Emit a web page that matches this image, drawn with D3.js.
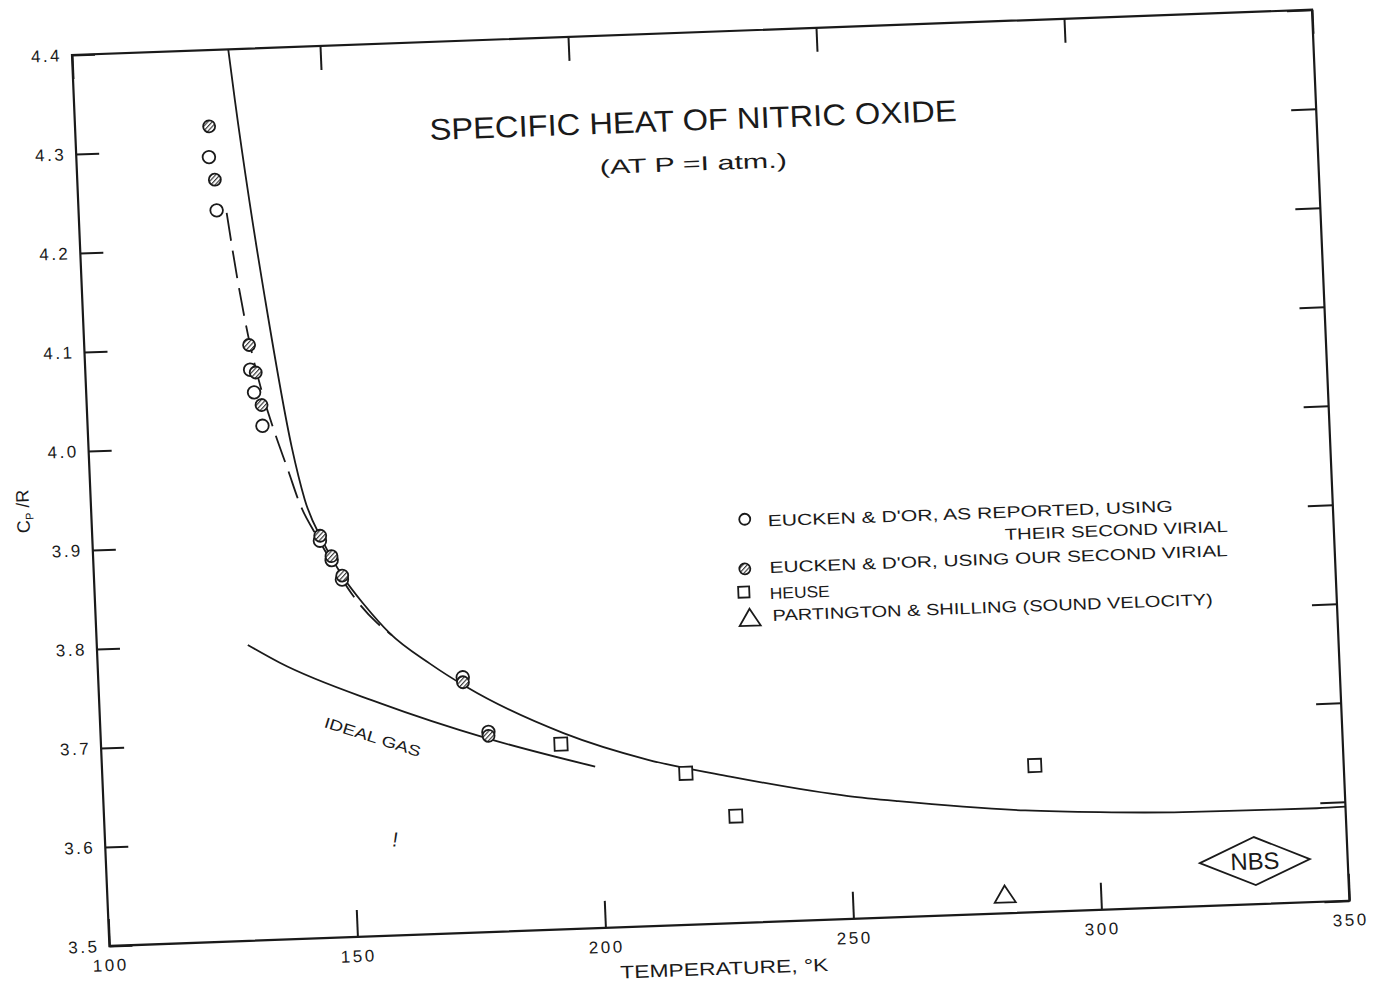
<!DOCTYPE html>
<html>
<head>
<meta charset="utf-8">
<title>specific heat of nitric oxide</title>
<script src="https://cdn.jsdelivr.net/npm/d3@7"></script>
<style>
    body { margin: 0; background-color: #fff; }
    svg { display: block; }
    .frame { fill: none; stroke: #1a1a1a; stroke-width: 2.2px; }
    .axis path { display: none; }
    .axis line { stroke: #1a1a1a; stroke-width: 2px; }
    .curve { fill: none; stroke: #1a1a1a; stroke-width: 1.8px; }
    .mark { stroke: #1a1a1a; stroke-width: 1.8px; fill: #fff; }
    .mark.hatched { fill: url(#hatch); }
    text { font-family: "Liberation Sans", Arial, sans-serif; fill: #1a1a1a; }
</style>
</head>
<body>
<svg id="chart" width="1373" height="984"></svg>
<script>
// ticks
const xTicks = [100, 150, 200, 250, 300, 350];
const yTicks = [3.5, 3.6, 3.7, 3.8, 3.9, 4.0, 4.1, 4.2, 4.3, 4.4];

// Eucken & D'Or, as reported (open circles)
const openT  = [126.7, 127.8, 133.2, 133.8, 135.2, 145.8, 148.0, 149.9, 173.4, 178.1];
const openCp = [4.292, 4.238, 4.076, 4.053, 4.019, 3.901, 3.881, 3.861, 3.758, 3.702];
// Eucken & D'Or, our second virial (hatched circles)
const hatchT  = [127.0, 127.7, 133.2, 134.3, 135.2, 145.9, 148.0, 150.0, 173.4, 178.1];
const hatchCp = [4.323, 4.269, 4.101, 4.073, 4.040, 3.906, 3.885, 3.865, 3.753, 3.698];
// Heuse (squares)
const heuseT  = [192.6, 217.5, 227.2, 287.8];
const heuseCp = [3.687, 3.653, 3.608, 3.648];
// Partington & Shilling (triangle)
const partT  = [280.7];
const partCp = [3.5195];

// solid curve
const solidT  = [131.5, 132.4, 134.5, 136.8, 140.9, 143.1, 146.4, 150.3, 154.3, 159.1, 166.9, 174.1,
                 193.2, 210.0, 226.4, 250.0, 260.0, 285.5, 300.5, 317.2, 330.0, 344.2, 350.0];
const solidCp = [4.400, 4.349, 4.245, 4.147, 3.997, 3.943, 3.900, 3.8625, 3.834, 3.805, 3.773, 3.748,
                 3.698, 3.668, 3.648, 3.624, 3.617, 3.603, 3.5985, 3.5955, 3.595, 3.5945, 3.595];
// dashed curve
const dashT  = [129.8, 131.4, 133.1, 135.3, 137.6, 140.0, 142.0, 145.5, 148.3, 152.6, 156.6, 159.5];
const dashCp = [4.235, 4.168, 4.110, 4.055, 4.012, 3.973, 3.940, 3.903, 3.876, 3.840, 3.816, 3.803];
// ideal gas
const idealT  = [130.4, 136.7, 156.5, 177.8, 199.3];
const idealCp = [3.7985, 3.7794, 3.735, 3.6955, 3.663];

const legendLabels = [
    "EUCKEN  &  D'OR,  AS  REPORTED,  USING",
    "THEIR  SECOND  VIRIAL",
    "EUCKEN  &  D'OR,  USING  OUR  SECOND  VIRIAL",
    "HEUSE",
    "PARTINGTON  &  SHILLING  (SOUND  VELOCITY)"
];

const W = 1240, H = 891;
const ink = "#1a1a1a";

const svg = d3.select("#chart");

const defs = svg.append("defs");
defs.append("pattern")
    .attr("id", "hatch")
    .attr("patternUnits", "userSpaceOnUse")
    .attr("width", 3.2).attr("height", 3.2)
    .attr("patternTransform", "rotate(45)")
    .call(p => p.append("rect").attr("width", 3.2).attr("height", 3.2).attr("fill", "#fff"))
    .append("line")
    .attr("x1", 0.6).attr("y1", 0).attr("x2", 0.6).attr("y2", 3.2)
    .attr("stroke", ink).attr("stroke-width", 1.0);

// the scanned sheet is a little turned, so the whole plot sits in a tilted group
const g = svg.append("g").attr("transform", "matrix(1,-0.0365,0.042,1,72,55)");

const x = d3.scaleLinear().domain([100, 350]).range([0, W]);
const y = d3.scaleLinear().domain([3.5, 4.4]).range([H, 0]);

// axes, ticks pointing inwards
g.append("g").attr("class", "axis")
    .call(d3.axisLeft(y).tickValues(yTicks).tickSize(-23).tickPadding(10).tickFormat(d3.format(".1f")));
g.append("g").attr("class", "axis").attr("transform", "translate(" + W + ",0)")
    .call(d3.axisRight(y).tickValues(yTicks).tickSize(-25).tickFormat(""));
g.append("g").attr("class", "axis").attr("transform", "translate(0," + H + ")")
    .call(d3.axisBottom(x).tickValues(xTicks).tickSize(-27).tickPadding(13).tickFormat(d3.format("d")));
g.append("g").attr("class", "axis")
    .call(d3.axisTop(x).tickValues(xTicks).tickSize(-24).tickFormat(""));

g.selectAll(".axis text")
    .attr("font-family", "'Liberation Sans', Arial, sans-serif")
    .attr("font-size", 17)
    .attr("fill", ink)
    .style("letter-spacing", "2.5px");

g.append("rect").attr("class", "frame").attr("width", W).attr("height", H);

// curves
const line = d3.line().x(d => x(d[0])).y(d => y(d[1])).curve(d3.curveMonotoneX);

g.append("path").attr("class", "curve").attr("d", line(d3.zip(solidT, solidCp)));
g.append("path").attr("class", "curve").attr("stroke-dasharray", "28 10")
    .attr("d", line(d3.zip(dashT, dashCp)));
g.append("path").attr("class", "curve").attr("d", line(d3.zip(idealT, idealCp)));

// points
g.selectAll(".open").data(d3.zip(openT, openCp)).join("circle")
    .attr("class", "mark open")
    .attr("cx", d => x(d[0])).attr("cy", d => y(d[1])).attr("r", 6.3);
g.selectAll(".hatched").data(d3.zip(hatchT, hatchCp)).join("circle")
    .attr("class", "mark hatched")
    .attr("cx", d => x(d[0])).attr("cy", d => y(d[1])).attr("r", 6);
g.selectAll(".sq").data(d3.zip(heuseT, heuseCp)).join("rect")
    .attr("class", "mark sq")
    .attr("x", d => x(d[0]) - 6.5).attr("y", d => y(d[1]) - 6.5)
    .attr("width", 13).attr("height", 13);
const tri = "M0,-8.5L10.5,8.5L-10.5,8.5Z";
g.selectAll(".tri").data(d3.zip(partT, partCp)).join("path")
    .attr("class", "mark tri")
    .attr("d", tri)
    .attr("transform", d => "translate(" + x(d[0]) + "," + y(d[1]) + ")");

// title
g.append("text")
    .attr("x", x(171.35)).attr("y", y(4.301))
    .attr("font-size", 30)
    .attr("textLength", 527).attr("lengthAdjust", "spacingAndGlyphs")
    .text("SPECIFIC HEAT OF NITRIC OXIDE");
g.append("text")
    .attr("x", x(205.3)).attr("y", y(4.2605))
    .attr("font-size", 20)
    .attr("textLength", 187).attr("lengthAdjust", "spacingAndGlyphs")
    .text("(AT  P =I atm.)");

// legend
const legendPos = [[236.1, 3.899, 405], [283.7, 3.8765, 223], [236.1, 3.852, 458],
                   [235.9, 3.8257, 60], [236.3, 3.8034, 440]];
g.selectAll(".leg").data(legendLabels).join("text")
    .attr("class", "leg")
    .attr("x", (d, i) => x(legendPos[i][0]))
    .attr("y", (d, i) => y(legendPos[i][1]))
    .attr("font-size", 16)
    .attr("textLength", (d, i) => legendPos[i][2])
    .attr("lengthAdjust", "spacingAndGlyphs")
    .text(d => d);

g.append("circle").attr("class", "mark")
    .attr("cx", x(231.5)).attr("cy", y(3.907)).attr("r", 5.5);
g.append("circle").attr("class", "mark hatched")
    .attr("cx", x(231.1)).attr("cy", y(3.857)).attr("r", 5.5);
g.append("rect").attr("class", "mark")
    .attr("x", x(230.7) - 5.5).attr("y", y(3.8336) - 5.5).attr("width", 11).attr("height", 11);
g.append("path").attr("class", "mark").attr("d", tri)
    .attr("transform", "translate(" + x(231.7) + "," + y(3.808) + ")");

// ideal gas label
g.append("text")
    .attr("transform", "translate(" + x(144.9) + "," + y(3.713) + ") rotate(19.5)")
    .attr("font-size", 15)
    .attr("textLength", 100).attr("lengthAdjust", "spacingAndGlyphs")
    .text("IDEAL GAS");

// stray mark on the sheet
g.append("text")
    .attr("x", x(158.4)).attr("y", y(3.598) + 8)
    .attr("font-size", 20).attr("font-style", "italic")
    .attr("text-anchor", "middle")
    .text("!");

// axis titles
const yt = g.append("text")
    .attr("transform", "translate(-62,454) rotate(-90)")
    .attr("text-anchor", "middle")
    .attr("font-size", 18);
yt.append("tspan").text("C");
yt.append("tspan").attr("font-size", 11).attr("dy", 4).text("P");
yt.append("tspan").attr("dy", -4).text(" /R");

g.append("text")
    .attr("x", 613).attr("y", 942)
    .attr("text-anchor", "middle")
    .attr("font-size", 18)
    .attr("textLength", 208).attr("lengthAdjust", "spacingAndGlyphs")
    .text("TEMPERATURE,  °K");

// NBS badge
const nbs = g.append("g")
    .attr("transform", "translate(" + x(331.3) + "," + y(3.5435) + ")");
nbs.append("path")
    .attr("d", "M-55,0L0,-24L55,0L0,24Z")
    .attr("fill", "none").attr("stroke", ink).attr("stroke-width", 1.8);
nbs.append("text")
    .attr("text-anchor", "middle").attr("dy", "0.35em")
    .attr("font-family", "'Liberation Serif', 'DejaVu Serif', serif")
    .attr("font-size", 24)
    .attr("textLength", 49).attr("lengthAdjust", "spacingAndGlyphs")
    .text("NBS");
</script>
</body>
</html>
